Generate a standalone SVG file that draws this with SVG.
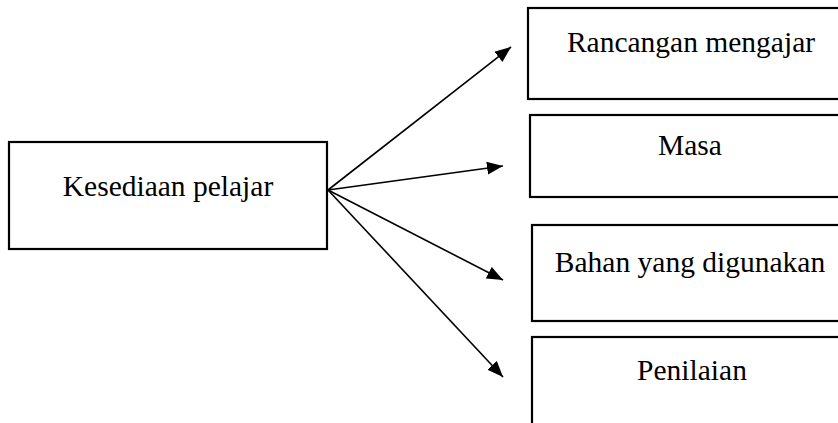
<svg xmlns="http://www.w3.org/2000/svg" width="838" height="423" viewBox="0 0 838 423">
<defs>
<style>
.box{fill:#fff;stroke:#000;stroke-width:2.2}
.lbl{font-family:"Liberation Serif","Times New Roman",serif;font-size:29.5px;fill:#000;text-anchor:middle}
.con{stroke:#000;stroke-width:1.6;fill:none;marker-end:url(#ah)}
</style>
<marker id="ah" markerUnits="userSpaceOnUse" markerWidth="17" markerHeight="13" refX="16" refY="6.5" orient="auto" viewBox="0 0 17 13">
<path d="M0,0 L16,6.5 L0,13 z" fill="#000"/>
</marker>
</defs>
<rect width="838" height="423" fill="#fff"/>
<g id="node-kesediaan">
<rect class="box" x="9" y="142" width="318" height="107"/>
<text class="lbl" x="168" y="196">Kesediaan pelajar</text>
</g>
<g id="node-rancangan">
<rect class="box" x="528" y="8" width="330" height="91"/>
<text class="lbl" x="691" y="52">Rancangan mengajar</text>
</g>
<g id="node-masa">
<rect class="box" x="530" y="115" width="330" height="82"/>
<text class="lbl" x="690" y="155">Masa</text>
</g>
<g id="node-bahan">
<rect class="box" x="532" y="225" width="330" height="96"/>
<text class="lbl" x="690" y="272">Bahan yang digunakan</text>
</g>
<g id="node-penilaian">
<rect class="box" x="532" y="337" width="330" height="100"/>
<text class="lbl" x="692" y="380">Penilaian</text>
</g>
<g id="connectors">
<line class="con" x1="328" y1="190" x2="511" y2="47"/>
<line class="con" x1="328" y1="190" x2="503" y2="166"/>
<line class="con" x1="328" y1="190" x2="503" y2="280"/>
<line class="con" x1="328" y1="190" x2="503" y2="377"/>
</g>
</svg>
